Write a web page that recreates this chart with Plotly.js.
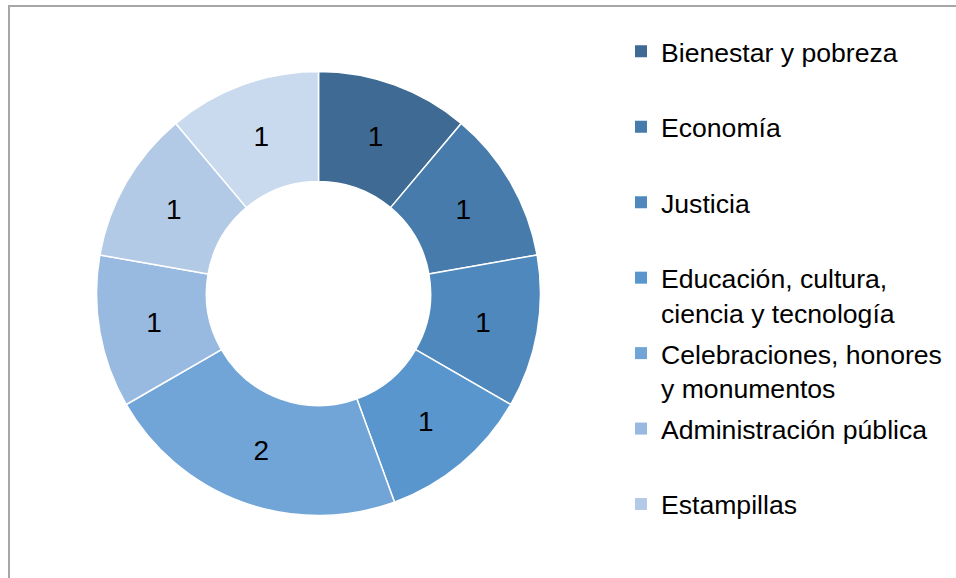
<!DOCTYPE html>
<html>
<head>
<meta charset="utf-8">
<script src="https://cdn.plot.ly/plotly-3.0.1.min.js"></script>
<style>
  html, body { margin: 0; padding: 0; background: #fff; }
  #chart { width: 956px; height: 578px; }
</style>
</head>
<body>
<div id="chart"></div>
<script>
// ---- data ----
const categories = [
  'Bienestar y pobreza',
  'Economía',
  'Justicia',
  'Educación, cultura,<br>ciencia y tecnología',
  'Celebraciones, honores<br>y monumentos',
  'Administración pública',
  'Estampillas',
  'Otros'
];
const values = [1, 1, 1, 1, 2, 1, 1, 1];
const colors = ['#3E6A94', '#467BAB', '#4F88BD', '#5896CD', '#71A5D8', '#98B9E0', '#B3CAE6', '#CADAEE'];
const legendCount = 7; // the reference legend shows only the first 7 entries

const FONT = 'Liberation Sans, Arial, sans-serif';

// legend-only helper traces (tiny, hidden beneath the ring), one group each for spacing
const traces = [];
for (let i = 0; i < legendCount; i++) {
  const lbl = categories[i].indexOf('<br>') >= 0 ? categories[i] : categories[i] + '<br>\u00a0';
  traces.push({
    type: 'pie',
    labels: [lbl],
    values: [values[i]],
    marker: { colors: [colors[i]], line: { width: 0 } },
    textinfo: 'none',
    hoverinfo: 'skip',
    sort: false,
    legendgroup: 'g' + i,
    showlegend: true,
    domain: { x: [0.2, 0.2001], y: [0.8, 0.8001] }
  });
}

// main doughnut
traces.push({
  type: 'pie',
  labels: categories,
  values: values,
  hole: 0.505,
  sort: false,
  direction: 'clockwise',
  rotation: 0,
  marker: { colors: colors, line: { color: '#ffffff', width: 1.5 } },
  textinfo: 'value',
  textposition: 'inside',
  insidetextorientation: 'horizontal',
  textfont: { family: FONT, size: 28, color: '#000000' },
  showlegend: false,
  hoverinfo: 'label+value',
  domain: { x: [(318.5 - 222) / 956, (318.5 + 222) / 956], y: [1 - 515.5 / 578, 1 - 71.5 / 578] }
});

const layout = {
  width: 956,
  height: 578,
  margin: { l: 0, r: 0, t: 0, b: 0 },
  paper_bgcolor: '#ffffff',
  showlegend: true,
  font: { family: FONT, color: '#000000' },
  legend: {
    x: 621 / 956, xanchor: 'left',
    y: 1 - 27.5 / 578, yanchor: 'top',
    font: { family: FONT, size: 26.6, color: '#000000' },
    traceorder: 'grouped',
    tracegroupgap: 3.3,
    valign: 'top',
    bgcolor: 'rgba(0,0,0,0)'
  },
  shapes: [{
    type: 'path', xref: 'paper', yref: 'paper',
    path: 'M ' + (9 / 956) + ',-0.05 L ' + (9 / 956) + ',' + (1 - 6 / 578) + ' L 1.05,' + (1 - 6 / 578),
    line: { color: '#A6A6A6', width: 2 }
  }]
};

Plotly.newPlot('chart', traces, layout, { displayModeBar: false, staticPlot: true });
</script>
</body>
</html>
